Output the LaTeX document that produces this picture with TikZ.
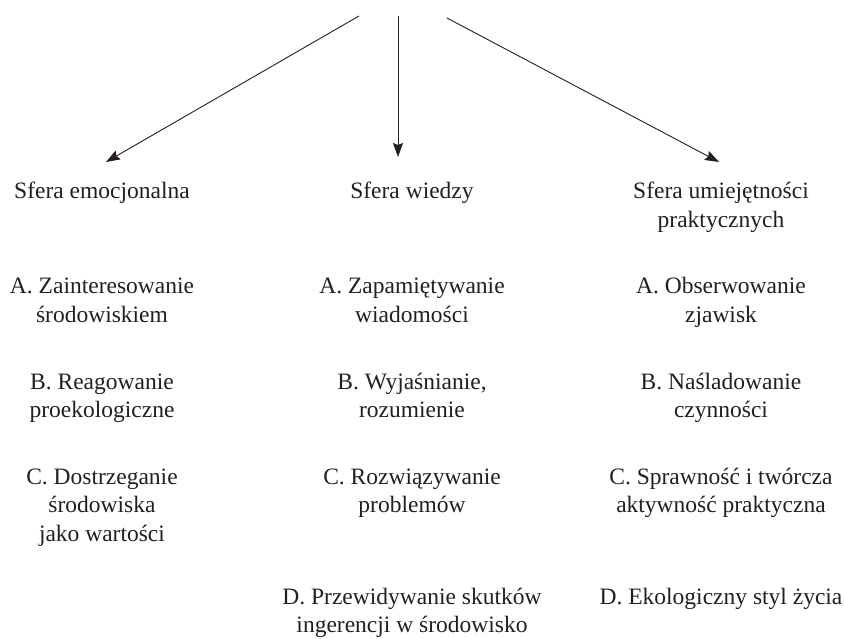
\documentclass[tikz,border=0pt]{standalone}
\usepackage{fontspec}
\setmainfont{Liberation Serif}
\usetikzlibrary{arrows.meta}
\definecolor{ink}{HTML}{231F20}
\tikzset{
  item/.style={align=center, inner sep=0pt, anchor=base, text=ink, font=\fontsize{23.5}{28.5}\selectfont},
  conn/.style={draw=ink, line width=0.9pt, -{Stealth[length=14pt,width=10pt,inset=2pt]}}
}
\begin{document}
\begin{tikzpicture}[x=1pt,y=-1pt]
\useasboundingbox (0,0) rectangle (844,639);
% connector ends
\coordinate (s1) at (359,16);
\coordinate (s2) at (398,16);
\coordinate (s3) at (447,18);
\coordinate (t1) at (106,162);
\coordinate (t2) at (398,157);
\coordinate (t3) at (719,162);
% headers (y = baseline of last line)
\node[item] (h1) at (102,199) {Sfera emocjonalna};
\node[item] (h2) at (412,199) {Sfera wiedzy};
\node[item] (h3) at (721,227.5) {Sfera umiejętności\\praktycznych};
% left column
\node[item] (l1) at (102,322.5) {A. Zainteresowanie\\środowiskiem};
\node[item] (l2) at (102,417.5) {B. Reagowanie\\proekologiczne};
\node[item] (l3) at (102,541) {C. Dostrzeganie\\środowiska\\jako wartości};
% middle column
\node[item] (m1) at (412,322.5) {A. Zapamiętywanie\\wiadomości};
\node[item] (m2) at (412,417.5) {B. Wyjaśnianie,\\rozumienie};
\node[item] (m3) at (412,512.5) {C. Rozwiązywanie\\problemów};
\node[item] (m4) at (412,632.5) {D. Przewidywanie skutków\\ingerencji w środowisko};
% right column
\node[item] (r1) at (721,322.5) {A. Obserwowanie\\zjawisk};
\node[item] (r2) at (721,417.5) {B. Naśladowanie\\czynności};
\node[item] (r3) at (721,512.5) {C. Sprawność i twórcza\\aktywność praktyczna};
\node[item] (r4) at (721,604) {D. Ekologiczny styl życia};
% arrows
\draw[conn] (s1) -- (t1);
\draw[conn] (s2) -- (t2);
\draw[conn] (s3) -- (t3);
\end{tikzpicture}
\end{document}
